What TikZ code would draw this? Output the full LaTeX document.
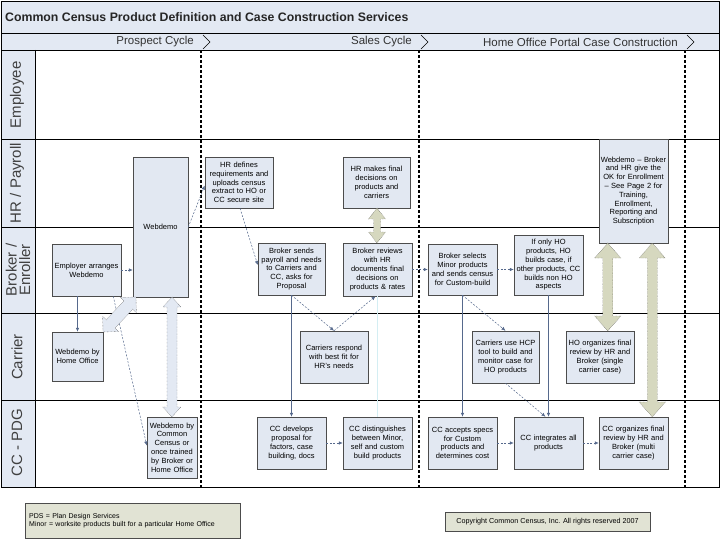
\documentclass[tikz,border=0pt]{standalone}
\usepackage{fontspec}
\setmainfont{Liberation Sans}
\usetikzlibrary{arrows.meta,calc}
\definecolor{lanebg}{HTML}{E3E9F3}
\definecolor{boxbg}{HTML}{E2E8F2}
\definecolor{khaki}{HTML}{D6D8BF}
\definecolor{legbg}{HTML}{E1E3D4}
\definecolor{conncol}{HTML}{56698C}
\definecolor{faintcol}{HTML}{D4EEF3}
\newcommand\bx[6]{%
  \pgfmathsetmacro\bw{#4-#2}\pgfmathsetmacro\bh{#5-#3}\pgfmathsetmacro\tw{#4-#2-2}%
  \node[box, minimum width=\bw pt, minimum height=\bh pt, text width=\tw pt] (#1) at ({(#2+#4)/2},{(#3+#5)/2}) {#6};}
\begin{document}
\begin{tikzpicture}[x=1pt,y=-1pt,
  box/.style={draw=black!70, line width=0.5pt, fill=boxbg, font=\fontsize{7.5}{8.8}\selectfont, align=center, inner sep=0.5pt},
  conn/.style={draw=conncol, line width=0.5pt, -{Latex[length=4pt,width=3.5pt]}},
  dsh/.style={conn, dash pattern=on 2pt off 1.5pt},
  faintline/.style={draw=faintcol, line width=1pt},
  phasesep/.style={line width=1.3pt, dash pattern=on 3pt off 2pt},
  lanelbl/.style={rotate=90, font=\fontsize{15}{14}\selectfont, text=black!75, align=center},
  hdr/.style={font=\fontsize{11.5}{12}\selectfont, text=black!80, anchor=east, inner sep=0pt},
  blen/.code={\def\bL{#1}}, bsh/.code={\def\bS{#1}}, bhd/.code={\def\bH{#1}}, bhl/.code={\def\bK{#1}},
  dblarr/.pic={\path[pic actions] ({-\bL/2},0) -- ({-\bL/2+\bK},{\bH}) -- ({-\bL/2+\bK},{\bS}) -- ({\bL/2-\bK},{\bS}) -- ({\bL/2-\bK},{\bH}) -- ({\bL/2},0) -- ({\bL/2-\bK},{-\bH}) -- ({\bL/2-\bK},{-\bS}) -- ({-\bL/2+\bK},{-\bS}) -- ({-\bL/2+\bK},{-\bH}) -- cycle;},
  khakiarr/.style={fill=khaki, draw=black!75, densely dotted, line width=0.4pt},
  bluearr/.style={fill=lanebg, draw=black!75, densely dotted, line width=0.4pt}
]
\useasboundingbox (0,0) rectangle (720,540);
% frame and lanes
\fill[lanebg] (1,1) rectangle (719,50);
\fill[lanebg] (1,50) rectangle (35,487);
\draw[line width=0.6pt] (1,1) rectangle (719,487);
\foreach \yy in {33,50,139,227,313,400} \draw[line width=0.6pt] (1,\yy) -- (719,\yy);
\draw[line width=0.6pt] (35,50) -- (35,487);
% title and headers
\node[anchor=west, inner sep=0pt, font=\bfseries\fontsize{12.3}{13}\selectfont, text=black!85] (title) at (5,17) {Common Census Product Definition and Case Construction Services};
\node[hdr] (hP) at (194,42) {Prospect Cycle};
\node[hdr] (hS) at (412,42) {Sales Cycle};
\node[hdr] (hH) at (678,42) {Home Office Portal Case Construction};
\foreach \cx in {203,421,687} \draw[line width=0.6pt] (\cx,35) -- (\cx+7,42) -- (\cx,49);
\foreach \cx in {201,419,685} \draw[phasesep] (\cx,50) -- (\cx,487);
% lane labels
\node[lanelbl] (lEmp) at (17,95) {Employee};
\node[lanelbl] (lHR) at (17,183) {HR / Payroll};
\node[lanelbl, font=\fontsize{15}{13.5}\selectfont] (lBr) at (18,270) {Broker /\\Enroller};
\node[lanelbl] (lCar) at (17,357) {Carrier};
\node[lanelbl] (lCC) at (17,443) {CC - PDG};
% boxes
\bx{webdemo}{133}{157}{188}{297}{Webdemo}
\bx{emp}{52}{244}{121}{296}{Employer arranges\\Webdemo}
\bx{hrdef}{205}{157}{273}{208}{HR defines\\requirements and\\uploads census\\extract to HO or\\CC secure site}
\bx{hrfin}{343}{157}{410}{208}{HR makes final\\decisions on\\products and\\carriers}
\bx{brsend}{258}{243}{325}{295}{Broker sends\\payroll and needs\\to Carriers and\\CC, asks for\\Proposal}
\bx{brrev}{343}{243}{412}{296}{Broker reviews\\with HR\\documents final\\decisions on\\products \& rates}
\bx{brsel}{428}{244}{497}{295}{Broker selects\\Minor products\\and sends census\\for Custom-build}
\bx{ifonly}{514}{235}{583}{295}{If only HO\\products, HO\\builds case, if\\other products, CC\\builds non HO\\aspects}
\bx{wdbrk}{599}{139}{668}{243}{Webdemo – Broker\\and HR give the\\OK for Enrollment\\– See Page 2 for\\Training,\\Enrollment,\\Reporting and\\Subscription}
\bx{wdho}{52}{332}{103}{381}{Webdemo by\\Home Office}
\bx{wdcc}{147}{417}{197}{478}{Webdemo by\\Common\\Census or\\once trained\\by Broker or\\Home Office}
\bx{carresp}{300}{331}{368}{383}{Carriers respond\\with best fit for\\HR's needs}
\bx{ccdev}{257}{417}{326}{469}{CC develops\\proposal for\\factors, case\\building, docs}
\bx{ccdist}{343}{417}{412}{469}{CC distinguishes\\between Minor,\\self and custom\\build products}
\bx{carhcp}{472}{331}{539}{383}{Carriers use HCP\\tool to build and\\monitor case for\\HO products}
\bx{hoorg}{566}{331}{634}{383}{HO organizes final\\review by HR and\\Broker (single\\carrier case)}
\bx{ccacc}{428}{417}{497}{469}{CC accepts specs\\for Custom\\products and\\determines cost}
\bx{ccint}{514}{417}{583}{469}{CC integrates all\\products}
\bx{ccorg}{599}{417}{668}{469}{CC organizes final\\review by HR and\\Broker (multi\\carrier case)}
% connectors
\draw[dsh] (emp.east) -- (emp.east -| webdemo.west);
\draw[dsh] (webdemo.east) -- ($(hrdef.west)+(0,3)$);
\draw[dsh] ($(hrdef.south)+(1,0)$) -- ($(brsend.west)+(0,-4)$);
\draw[conn] (wdho.north |- emp.south) -- (wdho.north);
\draw[dsh] ($(emp.south east)+(-8,0)$) -- ($(wdcc.west)+(0,-2)$);
\draw[dsh] (brsend.south) -- (carresp.north);
\draw[conn] (brsend.south) -- (brsend.south |- ccdev.north);
\draw[faintline] (ccdist.north) -- (brrev.south);
\draw[dsh] (carresp.north) -- ($(brrev.south)+(-2,0)$);
\draw[dsh] (ccdev.east) -- (ccdist.west);
\draw[dsh] (brrev.east) -- (brrev.east -| brsel.west);
\draw[dsh] (brsel.east) -- (brsel.east -| ifonly.west);
\draw[dsh] (brsel.south) -- (carhcp.north);
\draw[conn] (brsel.south) -- (brsel.south |- ccacc.north);
\draw[conn] (ifonly.south) -- (ifonly.south |- ccint.north);
\draw[dsh] (carhcp.south) -- ($(ccint.north)+(-3,0)$);
\draw[dsh] (ccacc.east) -- (ccint.west);
\draw[dsh] (ccint.east) -- (ccorg.west);
% block arrows
\pic[khakiarr, rotate=90, blen=35, bsh=3.5, bhd=8.5, bhl=11] at ($(hrfin.south)!0.5!(brrev.north)$) {dblarr};
\coordinate (b2s) at ($(wdbrk.south west)+(9,0)$);
\coordinate (b2e) at (b2s |- hoorg.north);
\pic[khakiarr, rotate=90, blen=88, bsh=5, bhd=13, bhl=15] at ($(b2s)!0.5!(b2e)$) {dblarr};
\coordinate (b3s) at ($(wdbrk.south east)+(-16,0)$);
\coordinate (b3e) at (b3s |- ccorg.north);
\pic[khakiarr, rotate=90, blen=174, bsh=5, bhd=13, bhl=15] at ($(b3s)!0.5!(b3e)$) {dblarr};
\coordinate (b4s) at (wdcc.north |- webdemo.south);
\pic[bluearr, rotate=90, blen=120, bsh=5, bhd=9, bhl=10] at ($(b4s)!0.5!(wdcc.north)$) {dblarr};
\coordinate (b5s) at ($(webdemo.south west)+(3,0)$);
\pic[bluearr, rotate=46.7, blen=48, bsh=6, bhd=11, bhl=11] at ($(b5s)!0.5!(wdho.north east)$) {dblarr};
% legend
\node[draw=black!70, fill=legbg, anchor=north west, minimum width=215pt, minimum height=35pt, text width=207pt, align=left, inner sep=4pt, font=\fontsize{7}{8.5}\selectfont] (legend) at (25,503) {PDS = Plan Design Services\\Minor = worksite products built for a particular Home Office};
\node[draw=black!70, fill=legbg, minimum width=205pt, minimum height=19pt, inner sep=2pt, font=\fontsize{7.2}{8}\selectfont] (copyr) at (547.5,521.5) {Copyright Common Census, Inc. All rights reserved 2007};
\end{tikzpicture}
\end{document}
